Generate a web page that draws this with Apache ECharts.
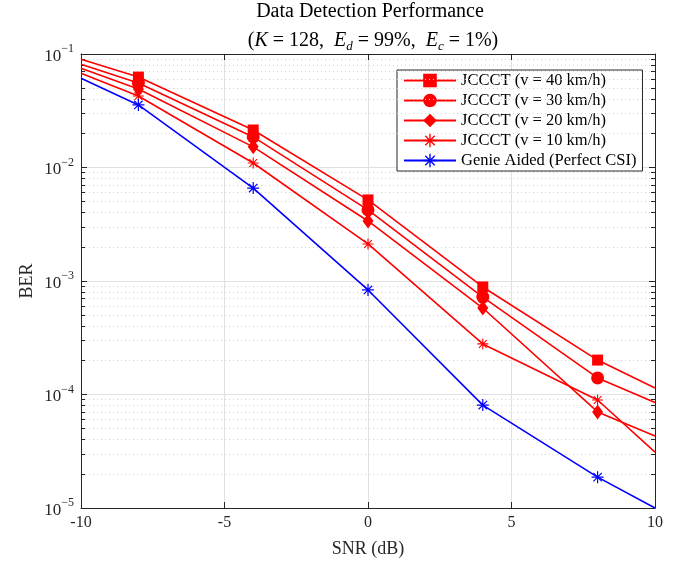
<!DOCTYPE html>
<html>
<head>
<meta charset="utf-8">
<script src="https://cdn.jsdelivr.net/npm/echarts@6/dist/echarts.min.js"></script>
<style>html,body{margin:0;padding:0;background:#fff}#c{width:686px;height:563px}</style>
</head>
<body>
<div id="c"></div>
<script>
// ---- data ----
const snr = [-10, -8, -4, 0, 4, 8, 10];
const ber40 = [0.0898, 0.0626, 0.0214, 0.00518, 8.86e-4, 2.01e-4, 1.14e-4];
const ber30 = [0.0811, 0.0555, 0.0186, 0.00423, 7.22e-4, 1.40e-4, 8.5e-5];
const ber20 = [0.0748, 0.0492, 0.0152, 0.00338, 5.78e-4, 7.02e-5, 4.31e-5];
const ber10 = [0.0676, 0.0427, 0.01096, 0.00212, 2.79e-4, 8.95e-5, 3.11e-5];
const berGenie = [0.0611, 0.0356, 0.00659, 8.34e-4, 8.07e-5, 1.87e-5, 1.0e-5];
const names = ['JCCCT (v = 40 km/h)', 'JCCCT (v = 30 km/h)', 'JCCCT (v = 20 km/h)', 'JCCCT (v = 10 km/h)', 'Genie Aided (Perfect CSI)'];
const xTicks = [-10, -5, 0, 5, 10];
const yDecades = [-5, -4, -3, -2, -1];

const FONT = 'Liberation Serif';
const TXT = '#262626';
const star = 'path://M0 45 L100 45 L100 55 L0 55 Z M45 0 L55 0 L55 100 L45 100 Z M18.5 11.5 L88.5 81.5 L81.5 88.5 L11.5 18.5 Z M81.5 11.5 L88.5 18.5 L18.5 88.5 L11.5 81.5 Z';

const minorVals = [];
for (let k = yDecades[0]; k < yDecades[yDecades.length - 1]; k++) {
  for (let m = 2; m <= 9; m++) minorVals.push(m * Math.pow(10, k));
}

function mkData(ys) {
  return snr.map((x, i) => {
    const d = { value: [x, ys[i]] };
    if (i === 0 || i === snr.length - 1) d.symbol = 'none';
    return d;
  });
}

const styles = [
  { color: '#ff0000', symbol: 'rect', size: 11 },
  { color: '#ff0000', symbol: 'circle', size: 13 },
  { color: '#ff0000', symbol: 'diamond', size: [11, 15] },
  { color: '#ff0000', symbol: star, size: 11 },
  { color: '#0000ff', symbol: star, size: 12 }
];
const allData = [ber40, ber30, ber20, ber10, berGenie];

const series = allData.map((ys, i) => ({
  name: names[i],
  type: 'line',
  data: mkData(ys),
  symbol: styles[i].symbol,
  symbolSize: styles[i].size,
  showAllSymbol: true,
  color: styles[i].color,
  itemStyle: { color: styles[i].color },
  lineStyle: { color: styles[i].color, width: 1.6, type: 'solid' },
  z: 5,
  animation: false
}));

// minor grid (dotted) and minor ticks on left/right axes
series.push({
  name: 'minor',
  type: 'line',
  data: [],
  silent: true,
  z: 1,
  markLine: {
    silent: true,
    symbol: 'none',
    label: { show: false },
    animation: false,
    lineStyle: { color: '#d4d4d4', type: [1, 3], width: 1 },
    data: minorVals.map(v => [{ coord: [-10, v] }, { coord: [10, v] }])
  }
});
series.push({
  name: 'minorTicks',
  type: 'line',
  data: [],
  silent: true,
  z: 6,
  markLine: {
    silent: true,
    symbol: 'none',
    label: { show: false },
    animation: false,
    lineStyle: { color: TXT, type: 'solid', width: 1 },
    data: minorVals.map(v => [{ coord: [-10, v] }, { coord: [-9.86, v] }])
      .concat(minorVals.map(v => [{ coord: [9.86, v] }, { coord: [10, v] }]))
  }
});

const supRich = {
  b: { fontFamily: FONT, fontSize: 17, color: TXT, lineHeight: 22, verticalAlign: 'bottom' },
  s: { fontFamily: FONT, fontSize: 12, color: TXT, lineHeight: 22, verticalAlign: 'top', padding: [0, 0, 10, 0] }
};

const chart = echarts.init(document.getElementById('c'), null, { renderer: 'canvas' });
chart.setOption({
  animation: false,
  backgroundColor: '#fff',
  grid: { left: 81, right: 31, top: 54, bottom: 55, containLabel: false },
  graphic: [
    { type: 'text', x: 370, y: 12, style: { text: 'Data Detection Performance', font: '20px "Liberation Serif"', fill: '#000', textAlign: 'center', textVerticalAlign: 'middle' } },
    { type: 'text', x: 373, y: 41, style: {
        text: '({i|K} = 128,  {i|E}{d|d} = 99%,  {i|E}{d|c} = 1%)',
        font: '20px "Liberation Serif"', fill: '#000', textAlign: 'center', textVerticalAlign: 'middle',
        rich: {
          i: { fontFamily: FONT, fontSize: 20, fontStyle: 'italic', fill: '#000', lineHeight: 24 },
          d: { fontFamily: FONT, fontSize: 13, fontStyle: 'italic', fill: '#000', lineHeight: 24, padding: [11, 0, 0, 0] }
        }
    } }
  ],
  legend: {
    data: names,
    orient: 'vertical',
    left: 397, top: 70,
    backgroundColor: '#fff',
    borderColor: TXT, borderWidth: 1,
    padding: [2, 6, 2, 6],
    itemWidth: 52, itemHeight: 17, itemGap: 3,
    lineStyle: { type: 'solid', width: 2 },
    textStyle: { fontFamily: FONT, fontSize: 16.5, color: '#000', lineHeight: 14 },
    selectedMode: false
  },
  xAxis: [{
    type: 'value', min: -10, max: 10, interval: 5,
    name: 'SNR (dB)', nameLocation: 'middle', nameGap: 32,
    nameTextStyle: { fontFamily: FONT, fontSize: 18, color: TXT },
    axisLine: { show: true, onZero: false, lineStyle: { color: TXT, width: 1 } },
    axisTick: { show: true, inside: true, length: 6, lineStyle: { color: TXT } },
    axisLabel: { fontFamily: FONT, fontSize: 16, color: TXT, margin: 7, formatter: v => String(v) },
    splitLine: { show: true, lineStyle: { color: '#e0e0e0', width: 1 } }
  }, {
    type: 'value', min: -10, max: 10, interval: 5, position: 'top',
    axisLine: { show: true, onZero: false, lineStyle: { color: TXT, width: 1 } },
    axisTick: { show: true, inside: true, length: 6, lineStyle: { color: TXT } },
    axisLabel: { show: false }, splitLine: { show: false }
  }],
  yAxis: [{
    type: 'log', logBase: 10, min: 1e-5, max: 1e-1, interval: 1,
    name: 'BER', nameLocation: 'middle', nameGap: 45, nameRotate: 90, nameMoveOverlap: false,
    nameTextStyle: { fontFamily: FONT, fontSize: 18, color: TXT },
    axisLine: { show: true, onZero: false, lineStyle: { color: TXT, width: 1 } },
    axisTick: { show: true, inside: true, length: 6, lineStyle: { color: TXT } },
    axisLabel: {
      margin: 7,
      formatter: v => '{b|10}{s|−' + Math.round(-Math.log10(v)) + '}',
      rich: supRich
    },
    splitLine: { show: true, lineStyle: { color: '#e0e0e0', width: 1 } }
  }, {
    type: 'log', logBase: 10, min: 1e-5, max: 1e-1, interval: 1, position: 'right',
    axisLine: { show: true, onZero: false, lineStyle: { color: TXT, width: 1 } },
    axisTick: { show: true, inside: true, length: 6, lineStyle: { color: TXT } },
    axisLabel: { show: false }, splitLine: { show: false }
  }],
  series: series
});
</script>
</body>
</html>
